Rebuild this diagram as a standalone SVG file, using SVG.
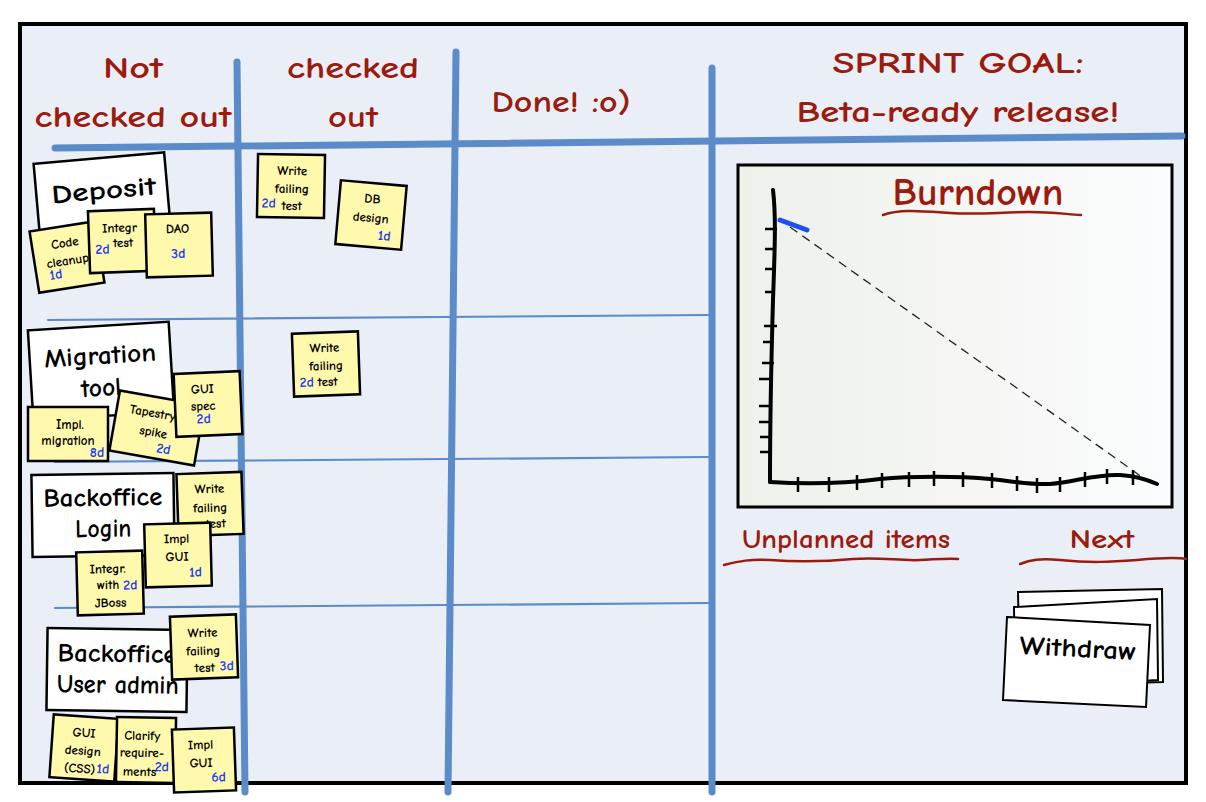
<svg xmlns="http://www.w3.org/2000/svg" width="1206" height="802" viewBox="0 0 1206 802">
<defs>
<linearGradient id="chartbg" x1="0" y1="0" x2="1" y2="0">
<stop offset="0" stop-color="#eef0ea"/>
<stop offset="1" stop-color="#fbfcfd"/>
</linearGradient>
<style>
.f{font-family:"Comic Sans MS","Comic Neue","DejaVu Sans",sans-serif;font-weight:700}
.hd{font-family:"Comic Sans MS","Comic Neue","DejaVu Sans",sans-serif;fill:#9b1b0e;text-anchor:middle;font-weight:700}
.blu{fill:none;stroke:#5b8bc8;stroke-linecap:round}
.thick{stroke-width:7}
.thin{stroke-width:2.2}
.card{fill:#ffffff;stroke:#000;stroke-width:2.5}
.ct{font-family:"Comic Sans MS","Comic Neue","DejaVu Sans",sans-serif;fill:#000;text-anchor:middle;font-size:26px;font-weight:700}
.note{fill:#fff9ae;stroke:#000;stroke-width:2.5}
.nt{font-family:"Comic Sans MS","Comic Neue","DejaVu Sans",sans-serif;fill:#000;text-anchor:middle;font-size:13px;font-weight:700}
.est{font-family:"Comic Sans MS","Comic Neue","DejaVu Sans",sans-serif;fill:#1e3cf0;font-size:14px;font-weight:700}
.wave{fill:none;stroke:#9b1b0e;stroke-width:2.5;stroke-linecap:round}
.ax{fill:none;stroke:#000;stroke-width:4;stroke-linecap:round}
.tk{fill:none;stroke:#000;stroke-width:2.5}
</style>
</defs>

<!-- board -->
<rect x="20" y="24" width="1166" height="759" fill="#eaeff7" stroke="#000" stroke-width="4"/>

<!-- headers -->
<g id="header-not-checked-out">
<text class="hd" x="133" y="78" font-size="31" textLength="60" lengthAdjust="spacingAndGlyphs">Not</text>
<text class="hd" x="133" y="127" font-size="31" textLength="197" lengthAdjust="spacingAndGlyphs">checked out</text>
</g>
<g id="header-checked-out">
<text class="hd" x="353" y="78" font-size="31" textLength="132" lengthAdjust="spacingAndGlyphs">checked</text>
<text class="hd" x="353" y="127" font-size="31" textLength="50" lengthAdjust="spacingAndGlyphs">out</text>
</g>
<g id="header-done">
<text class="hd" x="561" y="112" font-size="31" textLength="139" lengthAdjust="spacingAndGlyphs">Done! :o)</text>
</g>
<g id="header-sprint-goal">
<text class="hd" x="958" y="73" font-size="31" textLength="251" lengthAdjust="spacingAndGlyphs">SPRINT GOAL:</text>
<text class="hd" x="958" y="122" font-size="31" textLength="323" lengthAdjust="spacingAndGlyphs">Beta-ready release!</text>
</g>

<!-- grid lines -->
<g id="connectors">
<path class="blu thin" d="M48,320 L708,315"/>
<path class="blu thin" d="M55,462 L708,457"/>
<path class="blu thin" d="M55,608 L708,603"/>
<path class="blu thick" d="M55,148 Q600,140 1182,136"/>
<path class="blu thick" d="M237,62 L245,792"/>
<path class="blu thick" d="M456,52 L448,792"/>
<path class="blu thick" d="M712,68 L712,792"/>
</g>

<!-- Deposit row -->
<g id="story-deposit" transform="translate(102,194) rotate(-5)">
<rect class="card" x="-65.5" y="-36" width="131" height="72"/>
<text class="ct" x="2" y="5" font-size="28" textLength="105" lengthAdjust="spacingAndGlyphs">Deposit</text>
</g>
<g id="task-code-cleanup" transform="translate(67,257) rotate(-9)">
<rect class="note" x="-33" y="-31" width="66" height="62"/>
<text class="nt" x="0" y="-10">Code</text>
<text class="nt" x="0" y="8">cleanup</text>
<text class="est" x="-20" y="20">1d</text>
</g>
<g id="task-integr-test" transform="translate(122,241) rotate(-2)">
<rect class="note" x="-33" y="-31" width="66" height="62"/>
<text class="nt" x="-2" y="-9">Integr</text>
<text class="nt" x="1" y="6">test</text>
<text class="est" x="-27" y="12">2d</text>
</g>
<g id="task-dao" transform="translate(179,245) rotate(-1.5)">
<rect class="note" x="-33" y="-31.5" width="66" height="63"/>
<text class="nt" x="-1" y="-12">DAO</text>
<text class="est" x="-1" y="13" text-anchor="middle">3d</text>
</g>
<g id="task-write-failing-test-1" transform="translate(291,186) rotate(1)">
<rect class="note" x="-33.5" y="-31.5" width="67" height="63"/>
<text class="nt" x="1" y="-11">Write</text>
<text class="nt" x="1" y="7">failing</text>
<text class="nt" x="1" y="24">test</text>
<text class="est" x="-29" y="22">2d</text>
</g>
<g id="task-db-design" transform="translate(371,215) rotate(5)">
<rect class="note" x="-33" y="-32" width="66" height="64"/>
<text class="nt" x="0" y="-12">DB</text>
<text class="nt" x="0" y="7">design</text>
<text class="est" x="15" y="24" text-anchor="middle">1d</text>
</g>

<!-- Migration tool row -->
<g id="story-migration-tool" transform="translate(101,371) rotate(-3.5)">
<rect class="card" x="-70.5" y="-45" width="141" height="90"/>
<text class="ct" x="0" y="-7" textLength="112" lengthAdjust="spacingAndGlyphs">Migration</text>
<text class="ct" x="-1" y="25" textLength="40" lengthAdjust="spacingAndGlyphs">tool</text>
</g>
<g id="task-impl-migration" transform="translate(68,434)">
<rect class="note" x="-40" y="-27" width="80" height="54"/>
<text class="nt" x="2" y="-5">Impl.</text>
<text class="nt" x="0" y="11">migration</text>
<text class="est" x="29" y="23" text-anchor="middle">8d</text>
</g>
<g id="task-tapestry-spike" transform="translate(157,428) rotate(10)">
<rect class="note" x="-43" y="-30.5" width="86" height="61"/>
<text class="nt" x="-7" y="-10">Tapestry</text>
<text class="nt" x="-3" y="9">spike</text>
<text class="est" x="10" y="24" text-anchor="middle">2d</text>
</g>
<g id="task-gui-spec" transform="translate(208,404) rotate(-2.5)">
<rect class="note" x="-33" y="-31.5" width="66" height="63"/>
<text class="nt" x="-5" y="-11">GUI</text>
<text class="nt" x="-5" y="6">spec</text>
<text class="est" x="-5" y="19" text-anchor="middle">2d</text>
</g>
<g id="task-write-failing-test-2" transform="translate(326,364) rotate(-2)">
<rect class="note" x="-33" y="-31.5" width="66" height="63"/>
<text class="nt" x="-1" y="-12">Write</text>
<text class="nt" x="0" y="6">failing</text>
<text class="nt" x="1" y="22">test</text>
<text class="est" x="-27" y="22">2d</text>
</g>

<!-- Backoffice Login row -->
<g id="story-backoffice-login" transform="translate(103,515) rotate(-0.8)">
<rect class="card" x="-71" y="-41" width="142" height="82"/>
<text class="ct" x="0" y="-9" textLength="119" lengthAdjust="spacingAndGlyphs">Backoffice</text>
<text class="ct" x="0" y="22" textLength="56" lengthAdjust="spacingAndGlyphs">Login</text>
</g>
<g id="task-write-failing-test-3" transform="translate(210,504) rotate(-2)">
<rect class="note" x="-32.5" y="-31" width="65" height="62"/>
<text class="nt" x="0" y="-11">Write</text>
<text class="nt" x="0" y="8">failing</text>
<text class="nt" x="5" y="24">test</text>
</g>
<g id="task-impl-gui-1" transform="translate(178,555) rotate(-1.5)">
<rect class="note" x="-33" y="-31.5" width="66" height="63"/>
<text class="nt" x="-1" y="-12">Impl</text>
<text class="nt" x="-1" y="6">GUI</text>
<text class="est" x="17" y="22" text-anchor="middle">1d</text>
</g>
<g id="task-integr-jboss" transform="translate(110,583) rotate(-1.5)">
<rect class="note" x="-33" y="-31.5" width="66" height="63"/>
<text class="nt" x="-2" y="-10">Integr.</text>
<text class="nt" x="-2" y="6">with</text>
<text class="est" x="13" y="7">2d</text>
<text class="nt" x="0" y="24">JBoss</text>
</g>

<!-- Backoffice User admin row -->
<g id="story-backoffice-user-admin" transform="translate(117,670) rotate(0.8)">
<rect class="card" x="-70" y="-41" width="140" height="82"/>
<text class="ct" x="0" y="-8" textLength="119" lengthAdjust="spacingAndGlyphs">Backoffice</text>
<text class="ct" x="1" y="23" textLength="122" lengthAdjust="spacingAndGlyphs">User admin</text>
</g>
<g id="task-write-failing-test-4" transform="translate(204,647) rotate(-2)">
<rect class="note" x="-33" y="-31.5" width="66" height="63"/>
<text class="nt" x="-1" y="-10">Write</text>
<text class="nt" x="-1" y="8">failing</text>
<text class="nt" x="0" y="25">test</text>
<text class="est" x="15" y="24">3d</text>
</g>
<g id="task-gui-design" transform="translate(84,748) rotate(4)">
<rect class="note" x="-32.5" y="-31.5" width="65" height="63"/>
<text class="nt" x="-1" y="-11">GUI</text>
<text class="nt" x="-1" y="7">design</text>
<text class="nt" x="-3" y="25">(CSS)</text>
<text class="est" x="14" y="24">1d</text>
</g>
<g id="task-clarify-requirements" transform="translate(146,750) rotate(1)">
<rect class="note" x="-29.5" y="-32.5" width="59" height="65"/>
<text class="nt" x="-4" y="-10">Clarify</text>
<text class="nt" x="-4" y="7" font-size="12.5">require-</text>
<text class="nt" x="-6" y="26">ments</text>
<text class="est" x="9" y="21" font-size="13">2d</text>
</g>
<g id="task-impl-gui-2" transform="translate(204,760) rotate(-2)">
<rect class="note" x="-31" y="-31.5" width="62" height="63"/>
<text class="nt" x="-3" y="-11">Impl</text>
<text class="nt" x="-3" y="7">GUI</text>
<text class="est" x="14" y="22" text-anchor="middle">6d</text>
</g>

<!-- Burndown chart -->
<g id="burndown-chart">
<rect x="738" y="165" width="434" height="342" fill="url(#chartbg)" stroke="#000" stroke-width="3"/>
<text class="hd" x="978" y="205" font-size="38" textLength="171" lengthAdjust="spacingAndGlyphs">Burndown</text>
<path class="wave" d="M883,215 C900,209 920,211 950,213 C980,215 1000,212 1030,212 C1050,212 1065,214 1081,215"/>
<path d="M790,227 L1142,477" fill="none" stroke="#222" stroke-width="1.3" stroke-dasharray="9,6"/>
<path class="ax" d="M773,190 C776,215 775,245 773,300 C771,370 770,430 770,482"/>
<path class="ax" d="M770,482 C800,484 840,484 880,479 C910,476 960,476 990,479 C1010,481 1030,485 1050,484 C1075,482 1095,474 1120,475 C1138,476 1148,480 1157,484"/>
<path class="tk" d="M765,229 H777 M765,249 H775 M765,269 H774 M765,292 H774 M764,326 H777 M763,342 H772 M762,363 H774 M759,379 H770 M759,406 H771 M759,422 H770 M760,437 H771 M760,452 H769"/>
<path class="tk" d="M798,477 V492 M829,477 V492 M857,475 V490 M882,473 V488 M909,472 V487 M934,471 V486 M963,472 V487 M992,473 V488 M1017,476 V491 M1037,478 V493 M1060,477 V492 M1085,472 V487 M1107,469 V484 M1133,470 V485"/>
<path d="M780,220 L807,230" fill="none" stroke="#1e4ff0" stroke-width="5" stroke-linecap="round"/>
</g>

<!-- Unplanned / Next -->
<g id="label-unplanned-items">
<text class="hd" x="846" y="548" font-size="27" textLength="208" lengthAdjust="spacingAndGlyphs">Unplanned items</text>
<path class="wave" d="M724,565 C740,561 750,559 770,560 C800,562 820,562 853,559 C880,557 900,561 920,560 C940,559 950,558 958,559"/>
</g>
<g id="label-next">
<text class="hd" x="1102" y="548" font-size="27" textLength="65" lengthAdjust="spacingAndGlyphs">Next</text>
<path class="wave" d="M1020,564 C1030,560 1040,558 1060,560 C1090,563 1110,562 1137,560 C1160,558 1175,557 1186,559"/>
</g>
<g id="story-withdraw">
<polygon points="1018,592 1162,589 1163,682 1020,686" fill="#fff" stroke="#000" stroke-width="2"/>
<polygon points="1014,607 1157,599 1158,680 1015,688" fill="#fff" stroke="#000" stroke-width="2"/>
<polygon points="1007,617 1150,625 1146,707 1003,700" fill="#fff" stroke="#000" stroke-width="2"/>
<text class="f" x="1078" y="657" font-size="26" text-anchor="middle" transform="rotate(3 1078 650)" textLength="117" lengthAdjust="spacingAndGlyphs">Withdraw</text>
</g>
</svg>
